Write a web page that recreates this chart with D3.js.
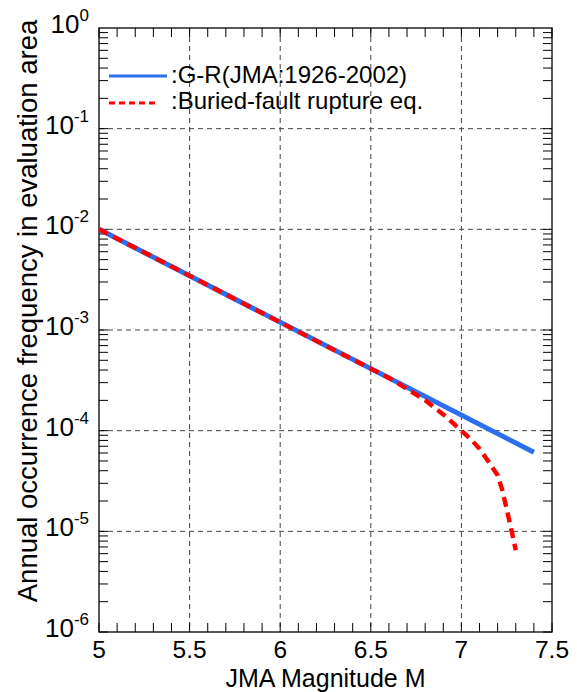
<!DOCTYPE html>
<html>
<head>
<meta charset="utf-8">
<script src="https://cdn.jsdelivr.net/npm/d3@7"></script>
<style>
  html, body { margin: 0; padding: 0; background: #fff; }
  svg { display: block; font-family: Arial, "Liberation Sans", Helvetica, sans-serif; }
</style>
</head>
<body>
<svg id="chart" width="577" height="692"></svg>
<script>
// Gutenberg-Richter relation fitted to the JMA catalogue (1926-2002)
const grMagnitude = [5.0, 7.4];
const grFrequency = [1.0e-2, 6.1e-5];

// Frequency model including buried-fault rupture earthquakes
const buriedMagnitude = [5.0, 5.5, 6.0, 6.5, 6.6, 6.7, 6.8, 6.9, 7.0, 7.05, 7.1, 7.15, 7.2, 7.225, 7.25, 7.275, 7.3];
const buriedFrequency = [1.0e-2, 3.46e-3, 1.19e-3, 4.13e-4, 3.34e-4, 2.6e-4, 2.0e-4, 1.45e-4, 1.0e-4, 8.3e-5, 6.6e-5, 4.9e-5, 3.6e-5, 2.6e-5, 1.66e-5, 1.05e-5, 6.5e-6];

// Axis ticks
const xTickValues = [5, 5.5, 6, 6.5, 7, 7.5];
const xTickLabels = ["5", "5.5", "6", "6.5", "7", "7.5"];
const yDecades = [1, 1e-1, 1e-2, 1e-3, 1e-4, 1e-5, 1e-6];
const yExponents = ["0", "-1", "-2", "-3", "-4", "-5", "-6"];

const legendLabels = [":G-R(JMA:1926-2002)", ":Buried-fault rupture eq."];

const svg = d3.select("#chart");
const plotLeft = 99, plotRight = 552, plotTop = 28, plotBottom = 632;

const x = d3.scaleLinear().domain([5, 7.5]).range([plotLeft, plotRight]);
const y = d3.scaleLog().domain([1e-6, 1]).range([plotBottom, plotTop]);

// dashed grid at major positions
const grid = svg.append("g").attr("stroke", "#444").attr("stroke-width", 1).attr("stroke-dasharray", "5,4");
grid.selectAll("line.gx").data(xTickValues.filter(v => v > 5 && v < 7.5)).join("line")
  .attr("x1", d => x(d)).attr("x2", d => x(d)).attr("y1", plotTop).attr("y2", plotBottom);
grid.selectAll("line.gy").data(yDecades.filter(v => v < 1 && v > 1e-6)).join("line")
  .attr("y1", d => y(d)).attr("y2", d => y(d)).attr("x1", plotLeft).attr("x2", plotRight);

// inward ticks on all four sides
const tickLen = 9;
const minorX = d3.range(0, 26).map(i => 5 + i * 0.1);
const minorY = [];
for (let e = -6; e < 0; e++) for (let k = 1; k <= 9; k++) minorY.push(k * Math.pow(10, e));

const ticks = svg.append("g").attr("stroke", "#000").attr("stroke-width", 1);
ticks.selectAll("line.xb").data(minorX).join("line")
  .attr("x1", d => x(d)).attr("x2", d => x(d)).attr("y1", plotBottom).attr("y2", plotBottom - tickLen);
ticks.selectAll("line.xt").data(minorX).join("line")
  .attr("x1", d => x(d)).attr("x2", d => x(d)).attr("y1", plotTop).attr("y2", plotTop + tickLen);
ticks.selectAll("line.yl").data(minorY).join("line")
  .attr("y1", d => y(d)).attr("y2", d => y(d)).attr("x1", plotLeft).attr("x2", plotLeft + tickLen);
ticks.selectAll("line.yr").data(minorY).join("line")
  .attr("y1", d => y(d)).attr("y2", d => y(d)).attr("x1", plotRight).attr("x2", plotRight - tickLen);

// frame
svg.append("rect").attr("x", plotLeft).attr("y", plotTop)
  .attr("width", plotRight - plotLeft).attr("height", plotBottom - plotTop)
  .attr("fill", "none").attr("stroke", "#000").attr("stroke-width", 1.3);

// data lines
const line = d3.line().x(d => x(d[0])).y(d => y(d[1]));
const grData = grMagnitude.map((m, i) => [m, grFrequency[i]]);
const buriedData = buriedMagnitude.map((m, i) => [m, buriedFrequency[i]]);

svg.append("path").datum(grData).attr("d", line)
  .attr("fill", "none").attr("stroke", "#2b6ff0").attr("stroke-width", 5);
svg.append("path").datum(buriedData).attr("d", line)
  .attr("fill", "none").attr("stroke", "#ff0000").attr("stroke-width", 4.4)
  .attr("stroke-dasharray", "10,6").attr("stroke-linejoin", "round");

// x tick labels
svg.append("g").selectAll("text").data(xTickValues).join("text")
  .attr("x", d => x(d)).attr("y", 658).attr("text-anchor", "middle")
  .attr("font-size", 24.5).text((d, i) => xTickLabels[i]);

// y tick labels (powers of ten)
const yl = svg.append("g").selectAll("text").data(yDecades).join("text")
  .attr("x", 89).attr("y", d => y(d) + 5).attr("text-anchor", "end").attr("font-size", 26);
yl.append("tspan").text("10");
yl.append("tspan").attr("font-size", 17).attr("dy", -12).text((d, i) => yExponents[i]);

// axis titles
svg.append("text").attr("x", (plotLeft + plotRight) / 2).attr("y", 686.5).attr("text-anchor", "middle")
  .attr("font-size", 25).text("JMA Magnitude M");
svg.append("text").attr("transform", "translate(37,311) rotate(-90)")
  .attr("text-anchor", "middle").attr("font-size", 27.5)
  .text("Annual occurrence frequency in evaluation area");

// legend
const lg = svg.append("g");
lg.append("line").attr("x1", 109).attr("x2", 167).attr("y1", 76).attr("y2", 76)
  .attr("stroke", "#2b6ff0").attr("stroke-width", 3);
lg.append("line").attr("x1", 109).attr("x2", 159).attr("y1", 103).attr("y2", 103)
  .attr("stroke", "#ff0000").attr("stroke-width", 3).attr("stroke-dasharray", "6,4");
lg.selectAll("text").data(legendLabels).join("text")
  .attr("x", 171).attr("y", (d, i) => 83 + i * 26).attr("font-size", 24).text(d => d);
</script>
</body>
</html>
